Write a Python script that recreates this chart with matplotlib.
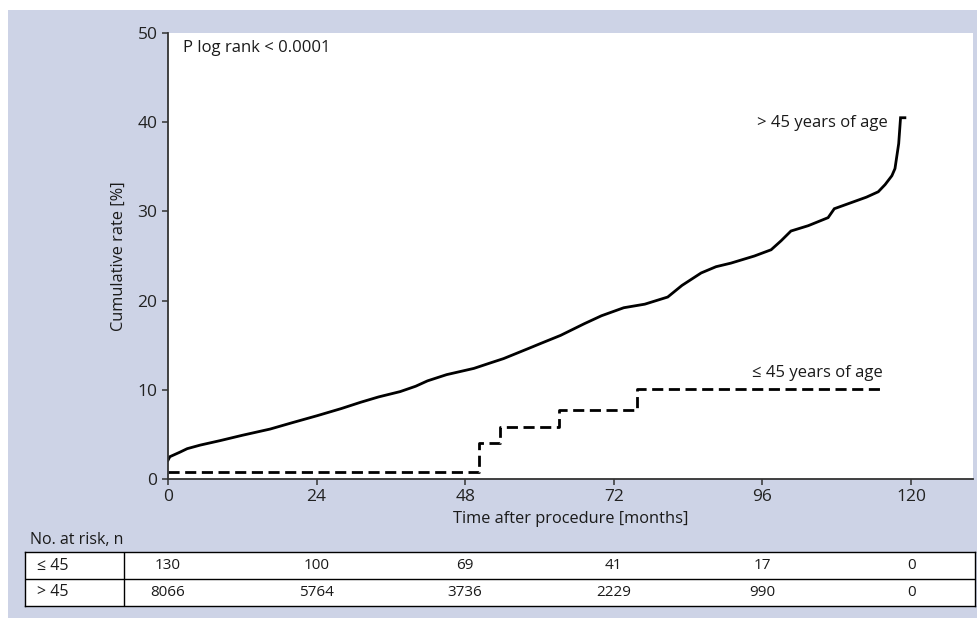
import matplotlib
matplotlib.use("Agg")
import matplotlib.pyplot as plt
import matplotlib.transforms as mtransforms
from matplotlib.patches import Rectangle

plt.rcParams['font.family'] = ['Open Sans', 'DejaVu Sans']

# cumulative rate, > 45 years of age
t_over = [0, 0.3, 1.9, 3.1, 5.2, 8.4, 12, 16.5, 20, 24.1, 28, 31.1, 34, 37.5, 40,
          41.9, 45, 49.4, 52, 54.2, 58.1, 60.2, 63.4, 67.2, 70, 73.6, 77, 80.7,
          83, 86.1, 88.5, 90.9, 94.7, 97.4, 99, 100.6, 103.4, 106.6, 107.6,
          110.4, 112.8, 114.7, 115.8, 116.9, 117.4, 118.0, 118.3, 119.0]
v_over = [2.1, 2.5, 3.0, 3.4, 3.8, 4.3, 4.9, 5.6, 6.3, 7.1, 7.9, 8.6, 9.2, 9.8, 10.4,
          11.0, 11.7, 12.4, 13.0, 13.5, 14.6, 15.2, 16.1, 17.4, 18.3, 19.2, 19.6, 20.4,
          21.7, 23.1, 23.8, 24.2, 25.0, 25.7, 26.7, 27.8, 28.4, 29.3, 30.3,
          31.0, 31.6, 32.2, 33.0, 34.0, 34.8, 37.6, 40.5, 40.5]

# cumulative rate, <= 45 years of age
t_under = [0, 50.2, 53.6, 63.1, 75.7, 115.5]
v_under = [0.8, 4.0, 5.8, 7.7, 10.1, 10.1]

# numbers at risk
risk_times = [0, 24, 48, 72, 96, 120]
risk_under = [130, 100, 69, 41, 17, 0]
risk_over = [8066, 5764, 3736, 2229, 990, 0]
row_labels = ['≤ 45', '> 45']

W, H = 977, 618
bg = '#cdd3e6'
axcol = '#333333'
txt = '#1a1a1a'

fig = plt.figure(figsize=(W / 100, H / 100), dpi=100)
fig.patch.set_facecolor('white')
fig.patches.append(Rectangle((8 / W, 0), 1 - 8 / W, 1 - 10 / H, transform=fig.transFigure,
                             facecolor=bg, edgecolor='none', zorder=-10))

ax = fig.add_axes([168 / W, 1 - 479 / H, (973 - 168) / W, (479 - 33) / H])
ax.set_facecolor('white')
# the big group has many tiny steps, drawn as a line
ax.plot(t_over, v_over, color='black', lw=2.0, solid_joinstyle='miter')
ax.step(t_under, v_under, where='post', color='black', lw=2.0, linestyle=(0, (4, 2)))

ax.set_xlim(0, 130)
ax.set_ylim(0, 50)
ax.set_xticks(risk_times)
ax.set_yticks([0, 10, 20, 30, 40, 50])
for s in ['top', 'right']:
    ax.spines[s].set_visible(False)
for s in ['left', 'bottom']:
    ax.spines[s].set_color(axcol)
    ax.spines[s].set_linewidth(1.3)
ax.tick_params(colors=axcol, labelcolor='#222222', length=4.5, width=1.1,
               labelsize=12.5, pad=3)

ax.set_xlabel('Time after procedure [months]', fontsize=11.8, color=txt, labelpad=4)
ax.set_ylabel('Cumulative rate [%]', fontsize=11.8, color=txt, labelpad=8)

ax.text(2.4, 48.3, 'P log rank < 0.0001', fontsize=12, va='center', ha='left', color=txt)
ax.text(116.3, 39.9, '> 45 years of age', fontsize=12, va='center', ha='right', color=txt)
ax.text(115.5, 11.9, '≤ 45 years of age', fontsize=12, va='center', ha='right', color=txt)

# number-at-risk table
fig.text(30 / W, 1 - 540 / H, 'No. at risk, n', fontsize=11.5, va='center', ha='left', color=txt)
tab = fig.add_axes([25 / W, 1 - 606 / H, (975 - 25) / W, (606 - 552) / H])
tab.set_facecolor('white')
tab.set_xticks([])
tab.set_yticks([])
for s in tab.spines.values():
    s.set_color('black')
    s.set_linewidth(1.0)
tab.axhline(0.5, color='black', lw=1.0)
tab.axvline((124 - 25) / (975 - 25), color='black', lw=1.0)

trans = mtransforms.blended_transform_factory(ax.transData, tab.transAxes)
for row, (label, counts) in enumerate(zip(row_labels, [risk_under, risk_over])):
    yc = 0.75 - 0.5 * row
    tab.text(12 / (975 - 25), yc, label, fontsize=11.5, va='center', ha='left', color=txt)
    for t, n in zip(risk_times, counts):
        tab.text(t, yc, str(n), transform=trans, fontsize=11, va='center', ha='center',
                 color=txt)

fig.savefig('out.png', dpi=100, facecolor=fig.get_facecolor())
